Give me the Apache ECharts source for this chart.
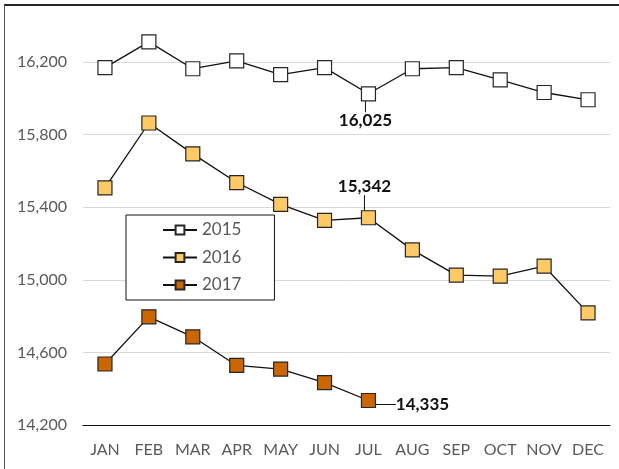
<!DOCTYPE html>
<html>
<head>
<meta charset="utf-8">
<script src="https://cdn.jsdelivr.net/npm/echarts@6/dist/echarts.min.js"></script>
<style>
    html, body { margin: 0; padding: 0; background: #fff; }
    #wrap { position: relative; width: 619px; height: 469px; overflow: hidden; }
    #frame { position: absolute; left: 4px; top: 4px; width: 620px; height: 480px;
             border-top: 2px solid #262626; border-left: 1px solid #595959; }
    #chart { position: absolute; left: 0; top: 0; width: 619px; height: 469px; }
</style>
</head>
<body>
<div id="wrap">
    <div id="frame"></div>
    <div id="chart"></div>
</div>
<script>
let months = ['JAN', 'FEB', 'MAR', 'APR', 'MAY', 'JUN', 'JUL', 'AUG', 'SEP', 'OCT', 'NOV', 'DEC'];
let years = ['2015', '2016', '2017'];
let y2015 = [16169, 16311, 16163, 16206, 16130, 16169, 16025, 16163, 16169, 16102, 16032, 15992];
let y2016 = [15506, 15864, 15694, 15536, 15416, 15328, 15342, 15165, 15026, 15020, 15075, 14818];
let y2017 = [14536, 14796, 14686, 14528, 14508, 14433, 14335];
let yMin = 14200, yMax = 16480, yStep = 400;
let calloutIndex = 6; // JUL gets a value callout in each series

let fills = ['#ffffff', '#ffc966', '#cc6600'];
// where each callout sits relative to its marker (px)
let calloutShift = [
    {dx: -3, dy: 27},
    {dx: -4, dy: -31},
    {dx: 54, dy: 4}
];

let fmt = v => String(v).replace(/\B(?=(\d{3})+(?!\d))/g, ',');

let chart = echarts.init(document.getElementById('chart'));

let series = [y2015, y2016, y2017].map((vals, i) => {
    return {
        name: years[i],
        type: 'line',
        data: vals.map((v, k) => {
            if(k !== calloutIndex) return v;
            return {
                value: v,
                label: {
                    show: true,
                    position: 'inside',
                    formatter: p => fmt(p.value),
                    fontFamily: 'Lato',
                    fontWeight: 'bold',
                    fontSize: 17,
                    color: '#111'
                }
            };
        }),
        symbol: 'rect',
        symbolSize: 14,
        itemStyle: {
            color: fills[i],
            borderColor: '#262626',
            borderWidth: 1.2
        },
        lineStyle: {
            color: '#111',
            width: 1.3
        },
        label: { show: false },
        labelLine: {
            show: true,
            lineStyle: { color: '#111', width: 1 }
        },
        labelLayout: () => calloutShift[i],
        emphasis: { disabled: true }
    };
});

let option = {
    animation: false,
    textStyle: { fontFamily: 'Lato' },
    grid: {
        left: 83,
        right: 9,
        top: 11.2,
        bottom: 44,
        containLabel: false,
        outerBoundsMode: 'none'
    },
    legend: {
        data: years,
        orient: 'vertical',
        left: 126,
        top: 215,
        padding: [6, 33, 6, 36],
        itemGap: 9.5,
        itemWidth: 34,
        itemHeight: 11,
        borderColor: '#111',
        borderWidth: 1,
        backgroundColor: '#fff',
        selectedMode: false,
        textStyle: {
            fontFamily: 'Lato',
            fontSize: 17,
            lineHeight: 18,
            color: '#595959'
        }
    },
    xAxis: {
        type: 'category',
        data: months,
        axisTick: { show: false },
        axisLine: { lineStyle: { color: '#111', width: 1.2 } },
        axisLabel: {
            interval: 0,
            margin: 17,
            fontFamily: 'Lato',
            fontSize: 16,
            color: '#595959'
        }
    },
    yAxis: {
        type: 'value',
        min: yMin,
        max: yMax,
        interval: yStep,
        axisLine: { show: false },
        axisTick: { show: false },
        splitLine: {
            showMaxLine: false,
            lineStyle: { color: '#d9d9d9', width: 1 }
        },
        axisLabel: {
            showMaxLabel: false,
            margin: 16,
            fontFamily: 'Lato',
            fontSize: 16,
            color: '#595959'
        }
    },
    series: series
};
chart.setOption(option);
</script>
</body>
</html>
